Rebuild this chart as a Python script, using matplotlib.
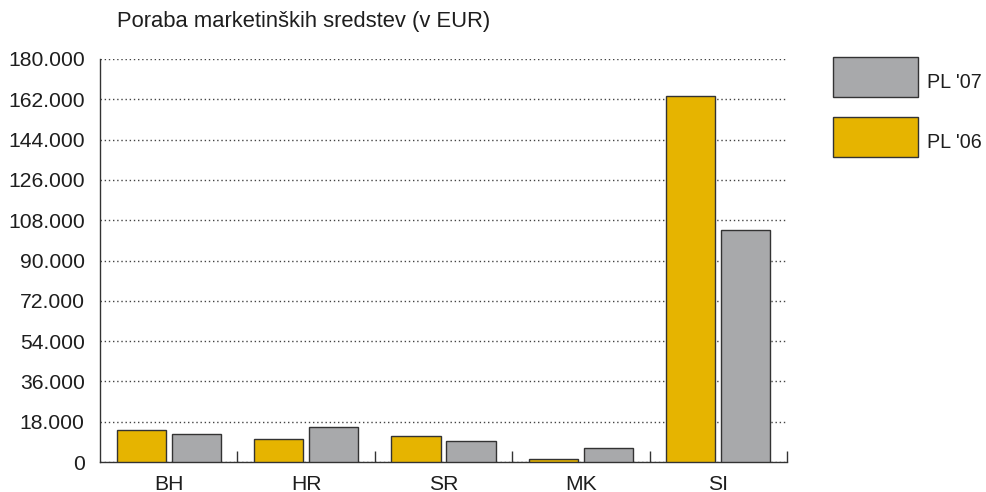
import matplotlib
matplotlib.use("Agg")
import matplotlib.pyplot as plt
import numpy as np
from matplotlib.ticker import FuncFormatter, FixedLocator
from matplotlib.patches import Rectangle

plt.rcParams['font.family'] = ['Liberation Sans', 'DejaVu Sans']

categories = ["BH", "HR", "SR", "MK", "SI"]
pl06 = [14300, 10300, 11600, 1300, 163500]
pl07 = [12500, 15600, 9400, 6200, 103600]
yticks = [0, 18000, 36000, 54000, 72000, 90000, 108000, 126000, 144000, 162000, 180000]
series_labels = ["PL '07", "PL '06"]

gold = "#E6B400"
gray = "#A8A9AB"
edge = "#333333"
txt = "#1e1e1e"
fs = 15.2

W, H = 987, 492
fig = plt.figure(figsize=(W/100, H/100), dpi=100)
ax = fig.add_axes([100/W, 30/H, 687/W, 403/H])

x = np.arange(len(categories))
w = 0.357
b06 = ax.bar(x - 0.2, pl06, width=w, color=gold, edgecolor=edge, linewidth=1.0, zorder=3)
b07 = ax.bar(x + 0.2, pl07, width=w, color=gray, edgecolor=edge, linewidth=1.0, zorder=3)

ax.set_xlim(-0.5, len(categories) - 0.5)
ax.set_ylim(0, 180000)
ax.set_yticks(yticks)
ax.yaxis.set_major_formatter(FuncFormatter(lambda v, p: f"{int(v):,}".replace(",", ".")))
ax.set_xticks(x)
ax.set_xticklabels(categories)
ax.xaxis.set_minor_locator(FixedLocator(np.arange(0.5, len(categories), 1.0)))
ax.tick_params(axis='x', which='major', length=0, pad=9, labelsize=fs, colors=txt)
ax.tick_params(axis='x', which='minor', length=8, direction='in', width=1, color="#333333")
ax.tick_params(axis='y', length=0, pad=11, labelsize=fs, colors=txt)

ax.grid(axis='y', linestyle=(0, (1, 2)), color="#444444", linewidth=1.0, zorder=0)
for s in ["top", "right"]:
    ax.spines[s].set_visible(False)
for s in ["left", "bottom"]:
    ax.spines[s].set_color("#333333")
    ax.spines[s].set_linewidth(1.0)

fig.text(117/W, 1 - 22/H, "Poraba marketinških sredstev (v EUR)", fontsize=15.8,
         ha='left', va='center', color=txt)

# legend (manual, to match the reference placement)
for i, (lab, col) in enumerate(zip(series_labels, [gray, gold])):
    top = 57 + i * 60
    fig.add_artist(Rectangle((833/W, 1 - (top + 40)/H), 85/W, 40/H, transform=fig.transFigure,
                             facecolor=col, edgecolor=edge, linewidth=1.0))
    fig.text(927/W, 1 - (top + 26)/H, lab, fontsize=14.2, ha='left', va='center', color=txt)

fig.savefig("out.png", dpi=100)
